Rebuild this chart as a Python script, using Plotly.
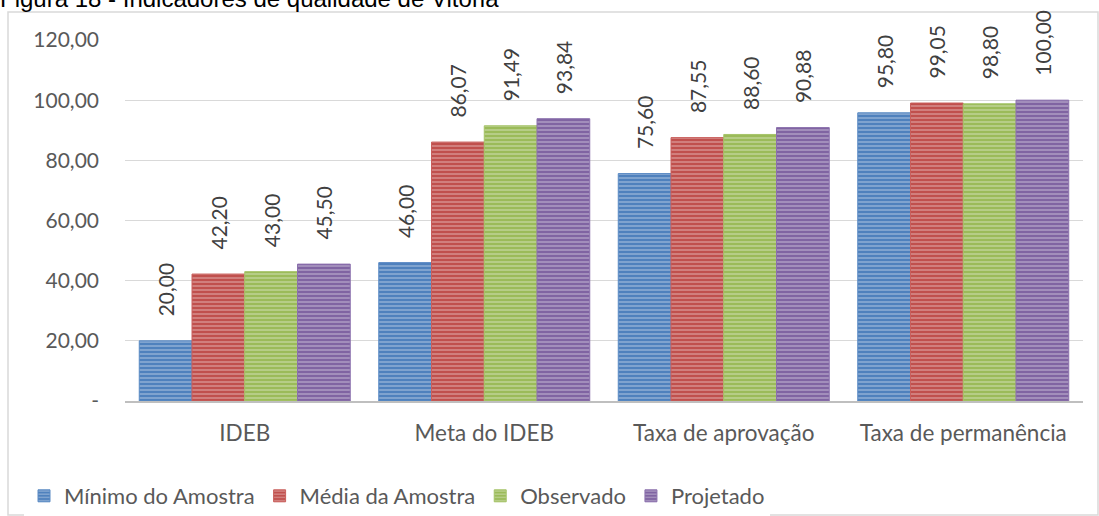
import plotly.graph_objects as go

categories = ["IDEB", "Meta do IDEB", "Taxa de aprovação", "Taxa de permanência"]
series_names = ["Mínimo do Amostra", "Média da Amostra", "Observado", "Projetado"]
minimo = [20.00, 46.00, 75.60, 95.80]
media = [42.20, 86.07, 87.55, 99.05]
observado = [43.00, 91.49, 88.60, 98.80]
projetado = [45.50, 93.84, 90.88, 100.00]
tick_vals = [0, 20, 40, 60, 80, 100, 120]
tick_text = ["-", "20,00", "40,00", "60,00", "80,00", "100,00", "120,00"]
title_text = "Figura 18 - Indicadores de qualidade de Vitória"

colors = ["#4f81bd", "#c0504d", "#9bbb59", "#8064a2"]
lines = ["#5a8ac4", "#c95f5c", "#a6c468", "#8b70ad"]

W, H = 1099, 516
ML, MR, MT, MB = 125, 16, 40, 115
PW, PH = W - ML - MR, H - MT - MB

def fmt(v):
    return "\u00a0\u00a0\u00a0\u00a0" + f"{v:.2f}".replace(".", ",")

fig = go.Figure()
for name, vals, c, lc in zip(series_names, [minimo, media, observado, projetado], colors, lines):
    fig.add_trace(go.Bar(
        x=categories, y=vals, name=name,
        marker=dict(color=c, line=dict(color=lc, width=1),
                    pattern=dict(shape="-", fgcolor="rgba(255,255,255,0.6)", bgcolor=c,
                                 size=4, solidity=0.45)),
        text=[fmt(v) for v in vals], textposition="outside", textangle=-90,
        constraintext="none",
        textfont=dict(family="Lato", size=21, color="#404040"),
        cliponaxis=False,
    ))

def px_to_paper_x(px):
    return (px - ML) / PW

def px_to_paper_y(py):
    return (H - MB - py) / PH

fig.add_shape(type="rect", xref="paper", yref="paper",
              x0=px_to_paper_x(8), x1=px_to_paper_x(1098),
              y0=px_to_paper_y(515), y1=px_to_paper_y(12),
              line=dict(color="#d9d9d9", width=1.5), fillcolor="rgba(0,0,0,0)", layer="below")

fig.update_layout(
    width=W, height=H,
    margin=dict(l=ML, r=MR, t=MT, b=MB, autoexpand=False),
    paper_bgcolor="white", plot_bgcolor="white",
    barmode="group", bargap=0.119, bargroupgap=0,
    title=dict(text=title_text, x=0, xref="container", xanchor="left",
               y=(H - 7) / H, yref="container", yanchor="bottom",
               font=dict(family="Liberation Sans", size=24, color="#000000"),
               pad=dict(l=0, b=0, t=0)),
    yaxis=dict(range=[0, 120], tickvals=tick_vals, ticktext=tick_text,
               showgrid=True, gridcolor="#d9d9d9", gridwidth=1,
               tickfont=dict(family="Lato", size=21, color="#595959"),
               zeroline=False, showline=False, ticks="", ticklabelstandoff=25),
    xaxis=dict(showline=True, linecolor="#bfbfbf", linewidth=2,
               tickfont=dict(family="Lato", size=22.5, color="#595959"), ticks="",
               ticklabelstandoff=11),
    legend=dict(orientation="h", x=px_to_paper_x(24), xanchor="left",
                y=px_to_paper_y(475), yanchor="top",
                font=dict(family="Lato", size=22, color="#595959"),
                itemwidth=30, tracegroupgap=0, traceorder="normal"),
    showlegend=True,
)

fig.write_html("out.html", config={"displayModeBar": False},
               post_script="document.body.style.margin='0';document.body.style.overflow='hidden';")
